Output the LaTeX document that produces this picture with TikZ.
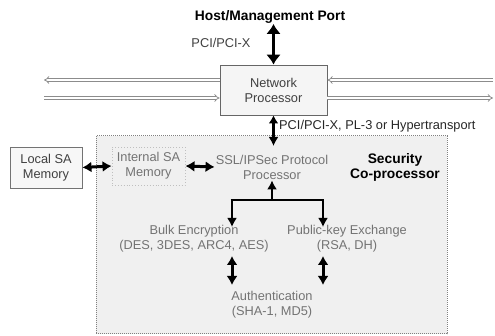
\documentclass[tikz,border=0pt]{standalone}
\usepackage{fontspec}
\setmainfont{Liberation Sans}
\usetikzlibrary{arrows.meta}
\begin{document}
\begin{tikzpicture}[x=1pt,y=-1pt,
  txt/.style={font=\fontsize{12.8}{15}\selectfont, align=center, inner sep=1pt},
  intxt/.style={txt, text=black!55},
  boldtxt/.style={font=\fontsize{13.8}{15}\selectfont\bfseries, align=center, inner sep=1pt},
  bigarr/.style={line width=3.6pt, {Latex[length=10pt,width=15pt]}-{Latex[length=10pt,width=15pt]}},
  midarr/.style={line width=3pt, {Latex[length=9pt,width=11pt]}-{Latex[length=9pt,width=11pt]}},
  downarr/.style={line width=2.6pt, -{Latex[length=9pt,width=10pt]}},
  hollow/.style={draw=black!45, double=white, double distance=1.8pt, line width=0.8pt, -{Implies}},
  box/.style={draw=black!60, line width=0.9pt}
]
\useasboundingbox (0,0) rectangle (495,336);

% security co-processor area
\node[draw=black!50, densely dotted, line width=1pt, fill=black!6, minimum width=351pt, minimum height=198pt, inner sep=0pt] (sec) at (271.5,235) {};

\node[boldtxt] (host) at (270,17) {Host/Management Port};
\node[box, fill=black!4, minimum width=107pt, minimum height=50pt, txt, text=black!75] (np) at (273.5,90) {Network\\Processor};
\coordinate (ht) at (273.5,24);
\draw[bigarr] (ht) -- (np.north);
\node[txt, text=black!75] (pci) at (221,43) {PCI/PCI-X};

% hollow lines
\coordinate (l1) at (44,80);
\coordinate (r1) at (493,80);
\coordinate (l2) at (44,98);
\coordinate (r2) at (493,98);
\draw[hollow] (np.west |- l1) -- (l1);
\draw[hollow] (r1) -- (np.east |- r1);
\draw[hollow] (l2) -- (np.west |- l2);
\draw[hollow] (np.east |- r2) -- (r2);

% link np <-> sec
\coordinate (npd) at (273.5,146);
\draw[line width=2.6pt, {Latex[length=8pt,width=10pt]}-{Latex[length=9pt,width=10pt]}] (np.south) -- (npd);
\node[txt, anchor=west, text=black!85] (bus) at (278,126) {PCI/PCI-X, PL-3 or Hypertransport};

% local & internal memory
\node[box, draw=black!55, fill=black!3, minimum width=72pt, minimum height=41pt, txt, text=black!75] (local) at (46,167.5) {Local SA\\Memory};
\node[draw=black!25, dotted, line width=0.9pt, minimum width=73pt, minimum height=38pt, intxt] (internal) at (148.5,166) {Internal SA\\Memory};
\node[intxt] (proto) at (272,167) {SSL/IPSec Protocol\\Processor};
\node[boldtxt] (seclabel) at (395,167) {Security\\Co-processor};

\draw[midarr] (local.east) -- (internal.west);
\draw[midarr] (internal.east) -- (proto.west);

% tree
\coordinate (tj) at (272,200);
\coordinate (tl) at (232,200);
\coordinate (tr) at (323,200);
\coordinate (tld) at (232,227);
\coordinate (trd) at (323,227);
\draw[downarr] (tj) -- (proto.south -| tj);
\draw[line width=2.6pt] ([xshift=-1.3pt]tl) -- ([xshift=1.3pt]tr);
\draw[downarr] (tl) -- (tld);
\draw[downarr] (tr) -- (trd);

\node[intxt] (bulk) at (194,239) {Bulk Encryption\\(DES, 3DES, ARC4, AES)};
\node[intxt] (pke) at (347,239) {Public-key Exchange\\(RSA, DH)};
\node[intxt] (auth) at (272,305) {Authentication\\(SHA-1, MD5)};

\coordinate (a1t) at (232,256);
\coordinate (a1b) at (232,285);
\coordinate (a2t) at (323,256);
\coordinate (a2b) at (323,285);
\draw[midarr] (a1t) -- (a1b);
\draw[midarr] (a2t) -- (a2b);
\end{tikzpicture}
\end{document}
